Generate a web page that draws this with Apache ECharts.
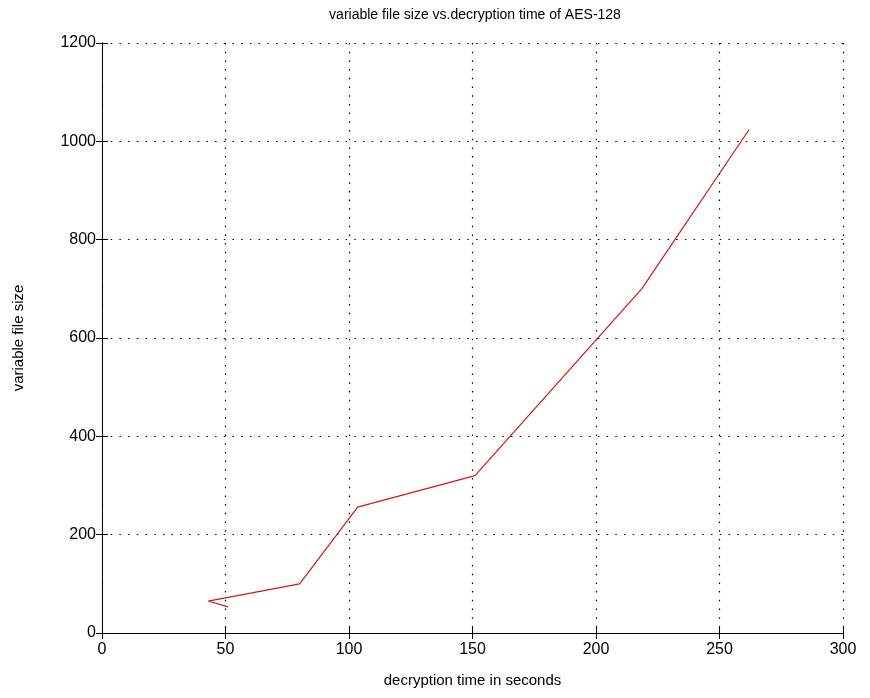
<!DOCTYPE html>
<html>
<head>
<meta charset="utf-8">
<script src="https://cdn.jsdelivr.net/npm/echarts@6/dist/echarts.min.js"></script>
<style>html,body{margin:0;padding:0;background:#fff;}#c{width:870px;height:698px;}</style>
</head>
<body>
<div id="c"></div>
<script>
const titleText = 'variable file size vs.decryption time of AES-128';
const xName = 'decryption time in seconds';
const yName = 'variable file size';
const decryptTime = [51, 43, 80, 103.5, 151, 218.5, 262];
const fileSize = [53, 65, 100, 256, 320, 700, 1024];
const xTicks = [0, 50, 100, 150, 200, 250, 300];
const yTicks = [0, 200, 400, 600, 800, 1000, 1200];

const points = decryptTime.map((x, i) => [x, fileSize[i]]);
const font = 'Liberation Sans, Arial, sans-serif';
const chart = echarts.init(document.getElementById('c'));
const gridLine = {show: true, lineStyle: {color: '#000', type: [1.5, 7.2], width: 1.2}};
chart.setOption({
  animation: false,
  title: {text: titleText, left: 470, top: 3, textAlign: 'center',
    textStyle: {fontFamily: font, fontSize: 14, fontWeight: 'normal', color: '#000'}},
  grid: {left: 102, right: 27, top: 43, bottom: 65},
  xAxis: [{
    type: 'value', min: xTicks[0], max: xTicks[xTicks.length - 1], interval: 50,
    name: xName, nameLocation: 'middle', nameGap: 40,
    nameTextStyle: {fontFamily: font, fontSize: 15, color: '#000'},
    axisLine: {lineStyle: {color: '#000', width: 1}},
    axisTick: {inside: true, length: 6, lineStyle: {color: '#000'}},
    axisLabel: {fontFamily: font, fontSize: 16, color: '#000', margin: 9, formatter: v => String(v)},
    splitLine: gridLine
  }, {
    type: 'value', position: 'top', min: 0, max: 300, interval: 50,
    axisLine: {show: true, lineStyle: {color: '#000'}},
    axisTick: {inside: true, length: 6, lineStyle: {color: '#000'}},
    axisLabel: {show: false}, splitLine: {show: false}
  }],
  yAxis: [{
    type: 'value', min: yTicks[0], max: yTicks[yTicks.length - 1], interval: 200,
    name: yName, nameLocation: 'middle', nameGap: 76, nameRotate: 90,
    nameTextStyle: {fontFamily: font, fontSize: 15, color: '#000'},
    axisLine: {show: true, lineStyle: {color: '#000', width: 1}},
    axisTick: {show: true, inside: true, length: 6, lineStyle: {color: '#000'}},
    axisLabel: {fontFamily: font, fontSize: 16, color: '#000', margin: 6, formatter: v => String(v)},
    splitLine: gridLine
  }, {
    type: 'value', position: 'right', min: 0, max: 1200, interval: 200,
    axisLine: {show: true, lineStyle: {color: '#000'}},
    axisTick: {show: true, inside: true, length: 6, lineStyle: {color: '#000'}},
    axisLabel: {show: false}, splitLine: {show: false}
  }],
  series: [{
    type: 'line', data: points, showSymbol: false, symbol: 'none',
    lineStyle: {color: '#d01818', width: 1.2}
  }]
});
</script>
</body>
</html>
